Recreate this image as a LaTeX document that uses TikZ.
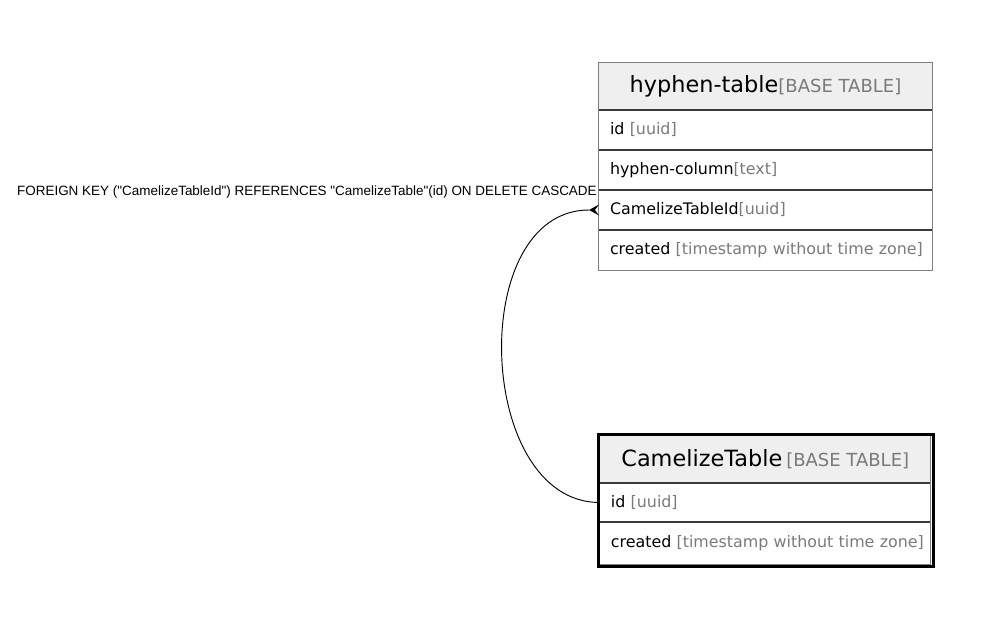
\documentclass[tikz,border=0pt]{standalone}
\usepackage{fontspec}
\newfontfamily\tblfont{DejaVu Sans}
\newfontfamily\fkfont{Liberation Sans}
\definecolor{hdrfill}{HTML}{EFEFEF}
\definecolor{typegray}{HTML}{7A7A7A}
\definecolor{framegray}{HTML}{808080}
\definecolor{sepdark}{HTML}{3A3A3A}
\newcommand{\coltype}[1]{\textcolor{typegray}{#1}}
\tikzset{
  hdr/.style={inner sep=0pt, minimum width=249.75pt, fill=hdrfill,
    font=\tblfont\fontsize{16.8pt}{19pt}\selectfont, text=black},
  colrow/.style={inner xsep=8.25pt, inner ysep=0pt, text width=233.25pt,
    minimum width=249.75pt, align=left,
    font=\tblfont\fontsize{11.9pt}{14pt}\selectfont, text=black},
  sep/.style={draw=sepdark, line width=1.2pt},
  fklabel/.style={inner sep=0pt, font=\fkfont\fontsize{10.1pt}{12pt}\selectfont},
  link/.style={draw=black, line width=0.7pt},
}
\newcommand{\tabletag}{\textcolor{typegray}{\fontsize{13.5pt}{15pt}\selectfont[BASE TABLE]}}
\begin{document}
\begin{tikzpicture}[x=0.75pt,y=-0.75pt]
\useasboundingbox (0,0) rectangle (998,629);

% ---- table hyphen-table ----
\node[hdr, minimum height=35.25pt] (ht) at (765.5,86.5) {hyphen-table\tabletag};
\node[colrow, minimum height=30pt] (ht-id) at (765.5,130) {\mbox{id \coltype{[uuid]}}};
\node[colrow, minimum height=30pt] (ht-hc) at (765.5,170) {\mbox{hyphen-column\coltype{[text]}}};
\node[colrow, minimum height=29.6pt] (ht-ct) at (765.5,209.75) {\mbox{CamelizeTableId\coltype{[uuid]}}};
\node[colrow, minimum height=30.4pt] (ht-cr) at (765.5,249.75) {\mbox{created \coltype{[timestamp without time zone]}}};
\draw[sep] (ht.south west) -- (ht.south east);
\draw[sep] (ht-id.south west) -- (ht-id.south east);
\draw[sep] (ht-hc.south west) -- (ht-hc.south east);
\draw[sep] (ht-ct.south west) -- (ht-ct.south east);
\draw[framegray, line width=0.8pt] (ht.north west) rectangle (ht-cr.south east);

% ---- table CamelizeTable ----
\node[hdr, minimum width=248pt, minimum height=35.25pt] (ct) at (765.25,459.5) {CamelizeTable\hspace{3pt}\tabletag};
\node[colrow, minimum width=248pt, text width=231.5pt, minimum height=29.25pt] (ct-id) at (765.25,502.5) {\mbox{id \coltype{[uuid]}}};
\node[colrow, minimum width=248pt, text width=231.5pt, minimum height=31.5pt] (ct-cr) at (765.25,543) {\mbox{created \coltype{[timestamp without time zone]}}};
\draw[sep] (ct.south west) -- (ct.south east);
\draw[sep] (ct-id.south west) -- (ct-id.south east);
\draw[framegray, line width=0.8pt] (ct.north west) rectangle (ct-cr.south east);
\draw[black, line width=2.3pt] (598.5,434.5) rectangle (933.5,566.5);

% ---- foreign key ----
\node[fklabel, anchor=east] (fk) at (597,192)
  {FOREIGN KEY ("CamelizeTableId") REFERENCES "CamelizeTable"(id) ON DELETE CASCADE};
\coordinate (tip) at (589,210);
\draw[link] (ct-id.west) .. controls +(-124,0) and +(-123,0) .. (tip);
\fill[black] (599,204.5) -- (tip) -- (599,215.5) -- (595,210) -- cycle;
\end{tikzpicture}
\end{document}
